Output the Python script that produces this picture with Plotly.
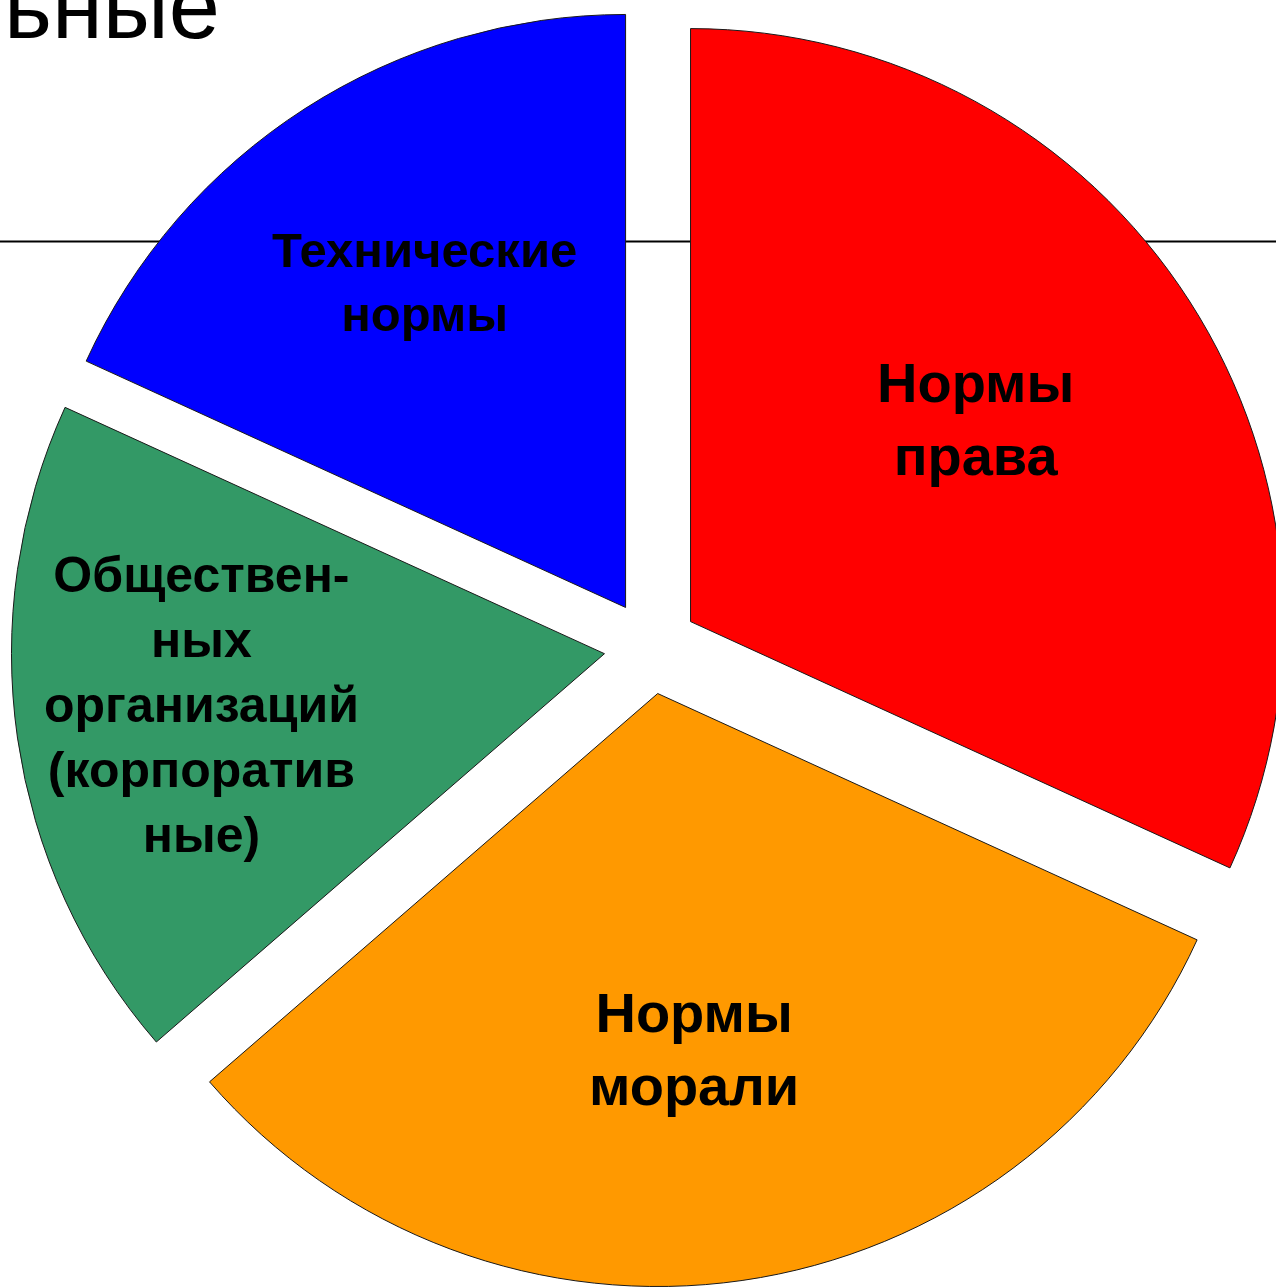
import plotly.graph_objects as go

# ---- data ----
categories = ["Нормы права", "Нормы морали",
              "Общественных организаций (корпоративные)", "Технические нормы"]
values = [35, 35, 20, 20]
colors = ["#FF0000", "#FF9900", "#339966", "#0000FF"]
label_texts = ["Нормы<br>права", "Нормы<br>морали",
               "Обществен-<br>ных<br>организаций<br>(корпоратив<br>ные)",
               "Технические<br>нормы"]
title_fragment = "ьные"

# ---- layout constants (pixels in the page) ----
W, H = 1320, 1320
CX, CY = 651, 647          # pie centre
R = 593                    # pie radius
PULL_PX = 47               # explode distance
HALF = R + PULL_PX
pull = PULL_PX / R

def px(x):
    return x / W

def py(y):
    return 1 - y / H

fig = go.Figure()
fig.add_trace(go.Pie(
    labels=categories,
    values=values,
    sort=False,
    direction="clockwise",
    rotation=0,
    pull=[pull] * len(values),
    marker=dict(colors=colors, line=dict(color="#1a1a1a", width=1)),
    textinfo="none",
    hoverinfo="skip",
    showlegend=False,
    domain=dict(x=[px(CX - HALF), px(CX + HALF)], y=[py(CY + HALF), py(CY - HALF)]),
))

# horizontal rule behind the pie
fig.add_shape(type="line", xref="paper", yref="paper", x0=0, x1=1,
              y0=py(241.5), y1=py(241.5), line=dict(color="black", width=2),
              layer="below")

label_pos = [(975, 419, 56), (694, 1049, 56), (202, 705, 50), (424, 282, 49)]
annotations = []
for txt, (lx, ly, fs) in zip(label_texts, label_pos):
    annotations.append(dict(
        text=txt, x=px(lx), y=py(ly), xref="paper", yref="paper",
        xanchor="center", yanchor="middle", showarrow=False, align="center",
        font=dict(family="Liberation Sans, Arial, sans-serif", size=fs,
                  color="black", weight="bold")))

annotations.append(dict(
    text=title_fragment, x=px(2), y=py(59), xref="paper", yref="paper",
    xanchor="left", yanchor="bottom", showarrow=False,
    font=dict(family="Liberation Sans, Arial, sans-serif", size=92, color="black")))

fig.update_layout(
    width=W, height=H,
    margin=dict(l=0, r=0, t=0, b=0),
    paper_bgcolor="white", plot_bgcolor="white",
    annotations=annotations,
)

fig.write_html("out.html", config={"displayModeBar": False},
               post_script="document.body.style.margin='0';document.body.style.overflow='hidden';")
